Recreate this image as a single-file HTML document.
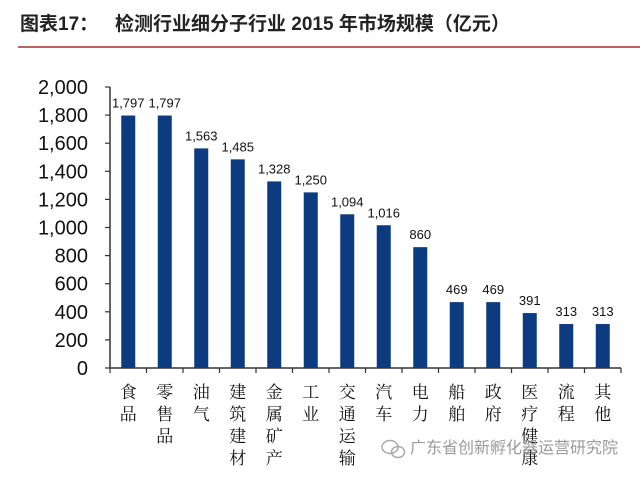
<!DOCTYPE html>
<html><head><meta charset="utf-8">
<style>
body{margin:0;background:#fff;width:640px;height:477px;overflow:hidden;font-family:"Liberation Sans","Noto Sans CJK SC",sans-serif;}
</style></head>
<body>
<svg width="640" height="477">
<text x="20" y="30" font-size="19" font-weight="bold" fill="#222" font-family="Liberation Sans, Noto Sans CJK SC, sans-serif">图表17：<tspan x="115">检测行业细分子行业 2015 年市场规模（亿元）</tspan></text>
<line x1="18" y1="47" x2="640" y2="47" stroke="#b5685a" stroke-width="2"/>
<g id="plot"></g>
<g>
<ellipse cx="390" cy="447" rx="8" ry="6.5" fill="none" stroke="#aaa" stroke-width="1.5"/>
<ellipse cx="398" cy="452" rx="6.5" ry="5.5" fill="none" stroke="#aaa" stroke-width="1.5"/>
<text x="410" y="453" font-size="16" fill="#9a9a9a" font-family="Liberation Sans, Noto Sans CJK SC, sans-serif">广东省创新孵化器运营研究院</text>
</g>
</svg>
<script>
const categories=["食品","零售品","油气","建筑建材","金属矿产","工业","交通运输","汽车","电力","船舶","政府","医疗健康","流程","其他"];
const values=[1797,1797,1563,1485,1328,1250,1094,1016,860,469,469,391,313,313];
const yTicks=[0,200,400,600,800,1000,1200,1400,1600,1800,2000];
const NS="http://www.w3.org/2000/svg";
const g=document.getElementById('plot');
const x0=110,x1=621,y0=368,yTop=87,yMax=2000;
const bw=(x1-x0)/categories.length;
const yS=v=>y0-(v/yMax)*(y0-yTop);
const xC=i=>x0+bw*(i+0.5);
function mk(t,a){const e=document.createElementNS(NS,t);for(const k in a)e.setAttribute(k,a[k]);g.appendChild(e);return e;}
let ax=mk('line',{x1:x0,y1:yTop,x2:x0,y2:y0,stroke:'#333','stroke-width':1.5});


let bx=mk('line',{x1:x0,y1:y0,x2:x1,y2:y0,stroke:'#333','stroke-width':1.5});


yTicks.forEach(v=>{
  const y=yS(v);
  const tk=mk('line',{x1:x0-5,y1:y,x2:x0,y2:y,stroke:'#333','stroke-width':1.2});
  
  
  const t=mk('text',{x:88,y:y+7,'text-anchor':'end','font-size':20,fill:'#111'});
  t.textContent=v.toLocaleString('en-US');
  
  
});
for(let i=0;i<=categories.length;i++){
  const x=x0+bw*i;
  const tk=mk('line',{x1:x,y1:y0,x2:x,y2:y0+5,stroke:'#333','stroke-width':1.2});
  
  
}
categories.forEach((c,i)=>{
  const cx=xC(i),v=values[i];
  const r=mk('rect',{x:cx-7,y:yS(v),width:14,height:y0-yS(v),fill:'#0d3b80'});
  
  
  const t=mk('text',{x:cx,y:yS(v)-8,'text-anchor':'middle','font-size':13,fill:'#111'});
  t.textContent=v.toLocaleString('en-US');
  
  
  const lab=mk('text',{x:cx,'text-anchor':'middle','font-size':17,fill:'#111','font-family':'Noto Serif CJK SC, serif'});
  
  
  [...c].forEach((ch,k)=>{const s=document.createElementNS(NS,'tspan');s.setAttribute('x',cx);s.setAttribute('y',398+k*22);s.textContent=ch;lab.appendChild(s);});
});
</script>
</body></html>
